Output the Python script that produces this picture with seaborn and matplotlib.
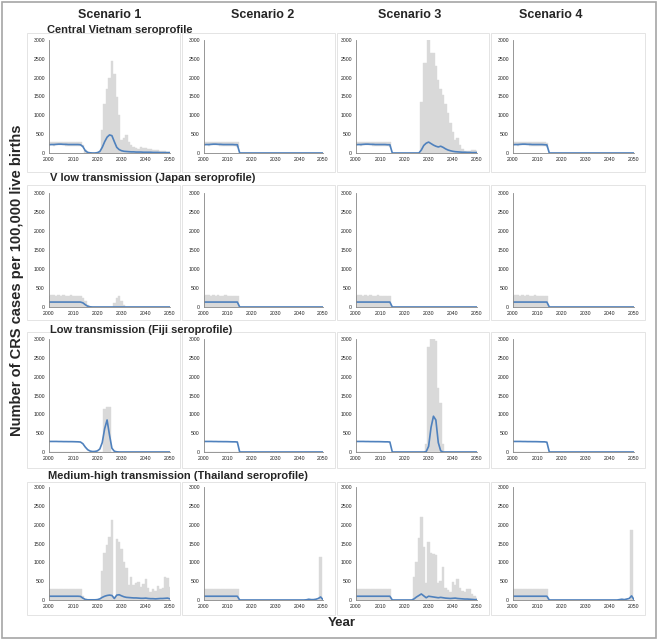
import numpy as np
import seaborn as sns
import matplotlib
matplotlib.use("Agg")
import matplotlib.pyplot as plt
from matplotlib.patches import Rectangle

# years shown on every panel
years = np.arange(2000, 2051)

scenarios = ['Scenario 1', 'Scenario 2', 'Scenario 3', 'Scenario 4']
settings = ['Central Vietnam seroprofile',
            'V low transmission (Japan seroprofile)',
            'Low transmission (Fiji seroprofile)',
            'Medium-high transmission (Thailand seroprofile)']

# ---- Central Vietnam ----
vn_lower = [200, 200, 195, 200, 205, 200, 200, 195, 195, 195, 195, 195, 195, 190, 150,
            0, 0, 0, 0, 0, 0, 0, 0, 0, 0, 0, 0, 0, 0, 0, 0, 0, 0, 0, 0, 0, 0, 0, 0, 0, 0, 0, 0, 0, 0, 0, 0, 0, 0, 0, 0]
vn_s1_upper = [290, 290, 285, 290, 285, 290, 285, 285, 290, 285, 280, 285, 280, 280,
               200, 90, 30, 5, 5, 5, 10, 60, 600, 1300, 1700, 2000, 2450, 2100, 1500, 1000,
               350, 400, 480, 300, 200, 150, 120, 100, 150, 140, 120, 110, 100, 90, 80, 70, 60, 50, 40, 35, 30]
vn_s1_median = [220, 225, 225, 230, 235, 235, 230, 230, 225, 225, 225, 225, 225, 220,
                170, 60, 15, 5, 0, 0, 10, 40, 150, 300, 420, 480, 460, 300, 150, 90,
                60, 45, 40, 35, 30, 30, 25, 25, 25, 20, 20, 20, 20, 15, 15, 15, 10, 10, 10, 10, 10]
vn_s2_upper = [290, 290, 285, 290, 285, 290, 285, 285, 290, 285, 280, 285, 280, 280, 280,
               0, 0, 0, 0, 0, 0, 0, 0, 0, 0, 0, 0, 0, 0, 0, 0, 0, 0, 0, 0, 0, 0, 0, 0, 0, 0, 0, 0, 0, 0, 0, 0, 0, 0, 0, 0]
vn_s2_median = [220, 225, 225, 230, 235, 235, 230, 230, 225, 225, 225, 225, 225, 220, 220,
                0, 0, 0, 0, 0, 0, 0, 0, 0, 0, 0, 0, 0, 0, 0, 0, 0, 0, 0, 0, 0, 0, 0, 0, 0, 0, 0, 0, 0, 0, 0, 0, 0, 0, 0, 0]
vn_s3_upper = [290, 290, 285, 290, 285, 290, 285, 285, 290, 285, 280, 285, 280, 280, 280,
               0, 0, 0, 0, 0, 0, 0, 0, 0, 0, 0, 0,
               1350, 2400, 2400, 3000, 2650, 2650, 2300, 1950, 1700, 1550, 1300, 1050, 800, 550,
               350, 400, 200, 100, 50, 40, 60, 80, 80, 60]
vn_s3_median = [220, 225, 225, 230, 235, 235, 230, 230, 225, 225, 225, 225, 225, 220, 220,
                0, 0, 0, 0, 0, 0, 0, 0, 0, 0, 0, 0,
                80, 200, 260, 290, 250, 210, 180, 160, 180, 150, 110, 80, 60, 45,
                35, 30, 25, 20, 20, 15, 15, 10, 10, 10]
vn_s4_upper = [290, 290, 285, 290, 285, 290, 285, 285, 290, 285, 280, 285, 280, 280, 270,
               0, 0, 0, 0, 0, 0, 0, 0, 0, 0, 0, 0, 0, 0, 0, 0, 0, 0, 0, 0, 0, 0, 0, 0, 0, 0, 0, 0, 0, 0, 0, 0, 0, 0, 0, 0]
vn_s4_median = [220, 225, 225, 230, 235, 235, 230, 230, 225, 225, 225, 225, 225, 220, 215,
                0, 0, 0, 0, 0, 0, 0, 0, 0, 0, 0, 0, 0, 0, 0, 0, 0, 0, 0, 0, 0, 0, 0, 0, 0, 0, 0, 0, 0, 0, 0, 0, 0, 0, 0, 0]

# ---- Japan ----
jp_s1_upper = [300, 305, 305, 300, 305, 300, 305, 300, 300, 305, 300, 300, 295, 290,
               250, 150, 40, 5, 0, 0, 0, 0, 0, 0, 0, 0, 0,
               100, 250, 280, 150, 40,
               0, 0, 0, 0, 0, 0, 0, 0, 0, 0, 0, 0, 0, 0, 0, 0, 0, 0, 0]
jp_s1_median = [130, 130, 130, 130, 130, 130, 130, 130, 130, 130, 130, 130, 130, 130,
                110, 60, 20, 5, 0, 0, 0, 0, 0, 0, 0, 0, 0, 0, 0, 0, 0, 0, 0, 0, 0, 0, 0, 0, 0, 0, 0, 0, 0, 0, 0, 0, 0, 0, 0, 0, 0]
jp_s2_upper = [300, 305, 305, 300, 305, 300, 305, 300, 300, 305, 300, 300, 295, 295, 290,
               0, 0, 0, 0, 0, 0, 0, 0, 0, 0, 0, 0, 0, 0, 0, 0, 0, 0, 0, 0, 0, 0, 0, 0, 0, 0, 0, 0, 0, 0, 0, 0, 0, 0, 0, 0]
jp_s2_median = [130, 130, 130, 130, 130, 130, 130, 130, 130, 130, 130, 130, 130, 130, 130,
                0, 0, 0, 0, 0, 0, 0, 0, 0, 0, 0, 0, 0, 0, 0, 0, 0, 0, 0, 0, 0, 0, 0, 0, 0, 0, 0, 0, 0, 0, 0, 0, 0, 0, 0, 0]
jp_s3_upper = [300, 305, 305, 300, 305, 300, 305, 300, 300, 305, 300, 300, 295, 295, 290,
               0, 0, 0, 0, 0, 0, 0, 0, 0, 0, 0, 0, 0, 0, 0, 0, 0, 0, 0, 0, 0, 0, 0, 0, 0, 0, 0, 0, 0, 0, 0, 0, 0, 0, 0, 0]
jp_s3_median = [130, 130, 130, 130, 130, 130, 130, 130, 130, 130, 130, 130, 130, 130, 130,
                0, 0, 0, 0, 0, 0, 0, 0, 0, 0, 0, 0, 0, 0, 0, 0, 0, 0, 0, 0, 0, 0, 0, 0, 0, 0, 0, 0, 0, 0, 0, 0, 0, 0, 0, 0]
jp_s4_upper = [300, 305, 305, 300, 305, 300, 305, 300, 300, 305, 300, 300, 295, 295, 290,
               0, 0, 0, 0, 0, 0, 0, 0, 0, 0, 0, 0, 0, 0, 0, 0, 0, 0, 0, 0, 0, 0, 0, 0, 0, 0, 0, 0, 0, 0, 0, 0, 0, 0, 0, 0]
jp_s4_median = [130, 130, 130, 130, 130, 130, 130, 130, 130, 130, 130, 130, 130, 130, 130,
                0, 0, 0, 0, 0, 0, 0, 0, 0, 0, 0, 0, 0, 0, 0, 0, 0, 0, 0, 0, 0, 0, 0, 0, 0, 0, 0, 0, 0, 0, 0, 0, 0, 0, 0, 0]

# ---- Fiji ----
fj_s1_upper = [0, 0, 0, 0, 0, 0, 0, 0, 0, 0, 0, 0, 0, 0, 0, 0, 0, 0, 0, 0, 0, 0, 0,
               1150, 1200, 1200,
               0, 0, 0, 0, 0, 0, 0, 0, 0, 0, 0, 0, 0, 0, 0, 0, 0, 0, 0, 0, 0, 0, 0, 0, 0]
fj_s1_median = [280, 280, 280, 280, 278, 278, 276, 276, 275, 275, 274, 272, 270,
                265, 220, 130, 60, 25, 12, 15, 30, 80, 250, 620, 850, 450, 100, 20, 5,
                0, 0, 0, 0, 0, 0, 0, 0, 0, 0, 0, 0, 0, 0, 0, 0, 0, 0, 0, 0, 0, 0]
fj_s2_upper = [0, 0, 0, 0, 0, 0, 0, 0, 0, 0, 0, 0, 0, 0, 0, 0, 0, 0, 0, 0, 0, 0, 0, 0, 0, 0,
               0, 0, 0, 0, 0, 0, 0, 0, 0, 0, 0, 0, 0, 0, 0, 0, 0, 0, 0, 0, 0, 0, 0, 0, 0]
fj_s2_median = [280, 280, 280, 280, 278, 278, 276, 276, 275, 275, 274, 272, 270, 270, 265,
                0, 0, 0, 0, 0, 0, 0, 0, 0, 0, 0, 0, 0, 0, 0, 0, 0, 0, 0, 0, 0, 0, 0, 0, 0, 0, 0, 0, 0, 0, 0, 0, 0, 0, 0, 0]
fj_s3_upper = [0, 0, 0, 0, 0, 0, 0, 0, 0, 0, 0, 0, 0, 0, 0,
               0, 0, 0, 0, 0, 0, 0, 0, 0, 0, 0, 0, 0, 0,
               200, 2800, 3000, 3000, 2950, 1700, 1300, 200,
               0, 0, 0, 0, 0, 0, 0, 0, 0, 0, 0, 0, 0, 0]
fj_s3_median = [280, 280, 280, 280, 278, 278, 276, 276, 275, 275, 274, 272, 270, 270, 265,
                0, 0, 0, 0, 0, 0, 0, 0, 0, 0, 0, 0, 0, 0,
                10, 150, 650, 950, 850, 250, 30, 0,
                0, 0, 0, 0, 0, 0, 0, 0, 0, 0, 0, 0, 0, 0]
fj_s4_upper = [0, 0, 0, 0, 0, 0, 0, 0, 0, 0, 0, 0, 0, 0, 0, 0, 0, 0, 0, 0, 0, 0, 0, 0, 0, 0,
               0, 0, 0, 0, 0, 0, 0, 0, 0, 0, 0, 0, 0, 0, 0, 0, 0, 0, 0, 0, 0, 0, 0, 0, 0]
fj_s4_median = [280, 280, 280, 280, 278, 278, 276, 276, 275, 275, 274, 272, 270, 270, 260,
                0, 0, 0, 0, 0, 0, 0, 0, 0, 0, 0, 0, 0, 0, 0, 0, 0, 0, 0, 0, 0, 0, 0, 0, 0, 0, 0, 0, 0, 0, 0, 0, 0, 0, 0, 0]

# ---- Thailand ----
th_s1_upper = [300, 300, 295, 300, 305, 300, 295, 300, 300, 295, 300, 290, 290, 285,
               100, 20, 10, 5, 5, 5, 10, 20, 770, 1250, 1450, 1660, 2125, 80, 1630, 1550,
               1350, 1000, 850, 400, 600, 400, 450, 480, 350, 420, 550, 320, 200, 300,
               250, 360, 300, 330, 600, 580, 350]
th_s1_median = [100, 100, 100, 100, 100, 100, 100, 100, 100, 100, 100, 100, 100, 95,
                50, 15, 5, 5, 5, 5, 10, 30, 70, 100, 120, 130, 120, 40, 130, 140,
                110, 85, 70, 65, 60, 55, 55, 50, 45, 45, 50, 40, 35, 35,
                30, 35, 40, 40, 45, 50, 30]
th_s2_upper = [300, 300, 295, 300, 305, 300, 295, 300, 300, 295, 300, 290, 290, 285, 280,
               0, 0, 0, 0, 0, 0, 0, 0, 0, 0, 0, 0, 0, 0, 0, 0, 0, 0, 0, 0, 0, 0, 0, 0, 0, 0, 0, 0, 0, 0, 0, 0, 0, 0,
               1150, 0]
th_s2_median = [100, 100, 100, 100, 100, 100, 100, 100, 100, 100, 100, 100, 100, 100, 100,
                0, 0, 0, 0, 0, 0, 0, 0, 0, 0, 0, 0, 0, 0, 0, 0, 0, 0, 0, 0, 0, 0, 0, 0, 0, 0, 0, 0,
                5, 20, 10, 10, 20, 40, 80, 10]
th_s3_upper = [300, 300, 295, 300, 305, 300, 295, 300, 300, 295, 300, 290, 290, 285, 280,
               0, 0, 0, 0, 0, 0, 0, 0, 0,
               600, 1000, 1650, 2200, 1400, 450, 1550, 1250, 1230, 1200,
               450, 500, 880, 320, 260, 200, 480, 400, 550, 320,
               250, 200, 280, 280, 150, 100, 50]
th_s3_median = [100, 100, 100, 100, 100, 100, 100, 100, 100, 100, 100, 100, 100, 100, 100,
                0, 0, 0, 0, 0, 0, 0, 0, 0,
                30, 80, 120, 160, 110, 60, 100, 90, 80, 70,
                60, 70, 60, 50, 45, 40, 45, 50, 40, 35,
                30, 25, 25, 20, 15, 10, 10]
th_s4_upper = [300, 300, 295, 300, 305, 300, 295, 300, 300, 295, 300, 290, 290, 285, 280,
               0, 0, 0, 0, 0, 0, 0, 0, 0, 0, 0, 0, 0, 0, 0, 0, 0, 0, 0, 0, 0, 0, 0, 0, 0, 0, 0, 0, 0, 0, 0, 0, 0, 0,
               1870, 0]
th_s4_median = [100, 100, 100, 100, 100, 100, 100, 100, 100, 100, 100, 100, 100, 100, 100,
                0, 0, 0, 0, 0, 0, 0, 0, 0, 0, 0, 0, 0, 0, 0, 0, 0, 0, 0, 0, 0, 0, 0, 0, 0, 0, 0, 0, 0,
                10, 20, 10, 25, 40, 110, 10]

zeros = [0] * len(years)
panels = [
    [(vn_lower, vn_s1_upper, vn_s1_median), (vn_lower, vn_s2_upper, vn_s2_median),
     (vn_lower, vn_s3_upper, vn_s3_median), (vn_lower, vn_s4_upper, vn_s4_median)],
    [(zeros, jp_s1_upper, jp_s1_median), (zeros, jp_s2_upper, jp_s2_median),
     (zeros, jp_s3_upper, jp_s3_median), (zeros, jp_s4_upper, jp_s4_median)],
    [(zeros, fj_s1_upper, fj_s1_median), (zeros, fj_s2_upper, fj_s2_median),
     (zeros, fj_s3_upper, fj_s3_median), (zeros, fj_s4_upper, fj_s4_median)],
    [(zeros, th_s1_upper, th_s1_median), (zeros, th_s2_upper, th_s2_median),
     (zeros, th_s3_upper, th_s3_median), (zeros, th_s4_upper, th_s4_median)],
]

sns.set_style("white")
plt.rcParams['font.family'] = ['Liberation Sans', 'DejaVu Sans']

W, H = 658, 640
fig = plt.figure(figsize=(W / 100, H / 100), dpi=100)

# pixel layout (left, right) / (top, bottom)
col_px = [(49, 170), (204, 323), (356, 477), (513, 634)]
row_px = [(40, 153), (193, 307), (339, 452), (487, 600)]
frame_col = [(27, 180), (182, 335), (337, 489), (491, 645)]
frame_row = [(33, 172), (185, 320), (332, 468), (482, 615)]

gray = '#d9d9d9'
blue = '#4f81bd'
axis_col = '#868686'

# outer border and chart frames
fig.patches.append(Rectangle((2 / W, 2 / H), 1 - 4 / W, 1 - 4 / H, transform=fig.transFigure,
                             fill=False, edgecolor='#a6a6a6', lw=1.2))
for (ft, fb) in frame_row:
    for (fl, fr) in frame_col:
        fig.patches.append(Rectangle((fl / W, 1 - fb / H), (fr - fl) / W, (fb - ft) / H,
                                     transform=fig.transFigure, fill=False,
                                     edgecolor='#e4e4e4', lw=0.7))

for r, (top, bot) in enumerate(row_px):
    for c, (left, right) in enumerate(col_px):
        lower, upper, median = panels[r][c]
        ax = fig.add_axes([left / W, 1 - bot / H, (right - left) / W, (bot - top) / H])
        lo = np.array(lower)
        up = np.array(upper)
        ax.bar(years, np.clip(up - lo, 0, None), bottom=lo, width=1.0, color=gray,
               edgecolor=gray, lw=0.3)
        sns.lineplot(x=years, y=median, ax=ax, color=blue, lw=1.2)
        ax.set_xlim(2000, 2050)
        ax.set_ylim(0, 3000)
        ax.set_xticks(range(2000, 2051, 10))
        ax.set_yticks(range(0, 3001, 500))
        ax.tick_params(labelsize=3.7, length=1.5, width=0.5, color=axis_col, pad=1.5,
                       labelcolor='#222222')
        for s in ['top', 'right']:
            ax.spines[s].set_visible(False)
        for s in ['left', 'bottom']:
            ax.spines[s].set_color(axis_col)
            ax.spines[s].set_linewidth(0.6)
        ax.set_xlabel('')
        ax.set_ylabel('')

# column headers
for x, t in zip([110, 263, 410, 551], scenarios):
    fig.text(x / W, 1 - 15 / H, t, ha='center', va='center', fontsize=9, fontweight='bold')

# row headers
for (x, y), t in zip([(47, 30), (50, 178), (50, 330), (48, 476)], settings):
    fig.text(x / W, 1 - y / H, t, ha='left', va='center', fontsize=8, fontweight='bold')

fig.text(17 / W, 1 - 280 / H, 'Number of CRS cases per 100,000 live births', rotation=90,
         ha='center', va='center', fontsize=10.5, fontweight='bold')
fig.text(342 / W, 1 - 623 / H, 'Year', ha='center', va='center', fontsize=9.5, fontweight='bold')

fig.savefig('out.png', dpi=100)
